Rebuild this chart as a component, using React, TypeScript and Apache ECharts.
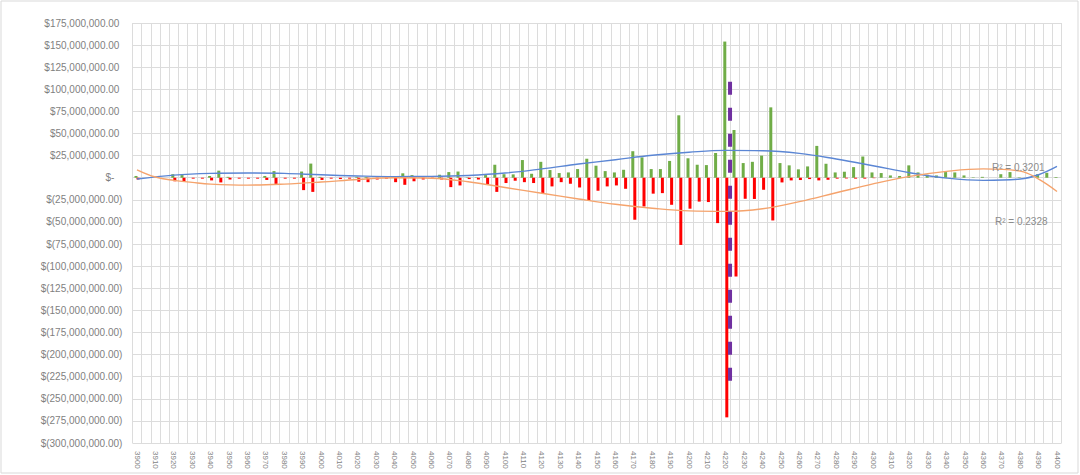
import React, { useEffect, useRef } from "react";
import * as echarts from "echarts";

// Strike categories 3900 .. 4400 step 5
const strikes: string[] = [];
for (let s = 3900; s <= 4400; s += 5) strikes.push(String(s));

// Call side (positive) values, in millions of dollars, one per strike
const callValues: number[] = [
  2, 0, 0, 0, 4, 3, 0, 0, 2, 8,
  1, 0, 0, 0, 2, 7.5, 0, 0, 7, 16,
  1, 0, 0, 0, 1, 1, 0, 0, 0, 5,
  3, 0, 0, 3.4, 6.4, 7, 0.5, 0.5, 3, 14.7,
  4, 3.8, 20, 4.5, 18, 8.7, 5.3, 6, 9.8, 21.5,
  13.6, 7.5, 6, 9, 30, 23, 9.8, 9.8, 19, 70.6,
  22, 14.7, 14.3, 28, 154, 54, 16.6, 18, 25, 79.6,
  16.6, 14, 9.5, 12.8, 36, 15.8, 6, 6.8, 12, 24,
  6, 5.3, 2.6, 2, 14, 6, 3.4, 2.6, 6.4, 6,
  2.6, 0.5, 1, 0, 4, 6.4, 0.5, 0, 4, 5.6,
  0.8,
];

// Put side (negative) values, in millions of dollars, one per strike
const putValues: number[] = [
  -2, 0, 0, 0, -4, -4.5, -1, -1, -3, -5.3,
  -2, -1, -1, -1, -2.5, -7, -1, -1, -14, -16,
  -2.5, -1, -1.5, -1, -4.5, -5, -2, -1, -5, -8,
  -4, -2, -1, -2, -10.6, -8.7, -1.5, -2, -8, -16,
  -6, -3.4, -5, -6, -18, -9.8, -5, -6.8, -11, -26,
  -14.7, -9.8, -8.7, -12.5, -47.5, -32.5, -18, -17.4, -30.6, -76,
  -35, -27, -27.5, -51.3, -271, -111.7, -23.8, -24, -13.6, -48.3,
  -5.3, -3, -2.6, -1.5, -3, -2.3, -1, -0.8, -1, -1,
  -0.5, 0, 0, 0, 0, 0, 0, 0, 0, 0,
  0, 0, 0, 0, 0, 0, 0, 0, 0, 0,
  0,
];

// Polynomial trend line of the call side (strike, millions)
const callTrend: [number, number][] = [
  [3900, -1.5], [3920, 3], [3940, 4.9], [3960, 5.3], [3980, 4.9], [4000, 3.3],
  [4020, 2], [4040, 1.3], [4060, 1.5], [4080, 2.6], [4100, 5.3], [4120, 10],
  [4140, 15.5], [4160, 20.4], [4180, 25.5], [4200, 28.9], [4220, 30.9], [4240, 30.6],
  [4260, 27.6], [4280, 21.2], [4300, 13.6], [4320, 5.6], [4340, -0.4], [4360, -3],
  [4380, -1.5], [4390, 3.4], [4400, 12.8],
];

// Polynomial trend line of the put side (strike, millions)
const putTrend: [number, number][] = [
  [3900, 9], [3910, 0.8], [3920, -3], [3930, -5.3], [3940, -7.2], [3960, -8.3],
  [3980, -7.2], [4000, -4.9], [4020, -2], [4040, 0], [4060, -0.5], [4080, -4.5],
  [4100, -11], [4120, -17.5], [4140, -24], [4160, -30], [4180, -34.5], [4200, -37.5],
  [4220, -38], [4240, -35], [4260, -27], [4280, -17], [4300, -7], [4320, 1.5],
  [4340, 7.2], [4360, 10], [4380, 7.5], [4390, -1.5], [4400, -15.5],
];

// Current price marker (strike, millions)
const spotMarker: [number, number][] = [
  [4222.3, 108.6],
  [4222.3, -233],
];

const trendLabels: string[] = ["R² = 0.3201", "R² = 0.2328"];

const Y_MIN = -300e6;
const Y_MAX = 175e6;
const Y_STEP = 25e6;
const M = 1e6;
const FONT = "Liberation Sans";

function fmtMoney(v: number): string {
  return Math.abs(v).toLocaleString("en-US", {
    minimumFractionDigits: 2,
    maximumFractionDigits: 2,
  });
}

export default function App() {
  const ref = useRef<HTMLDivElement>(null);

  useEffect(() => {
    if (!ref.current) return;
    const chart = echarts.init(ref.current, undefined, { renderer: "svg" });
    const labelColor = "#7f7f7f";
    const option: any = {
      animation: false,
      backgroundColor: "#ffffff",
      grid: { left: 132.4, right: 18.4, top: 23, bottom: 32, containLabel: false },
      xAxis: [
        {
          type: "category",
          data: strikes,
          boundaryGap: true,
          axisLine: { show: false },
          axisTick: { show: false },
          splitLine: { show: true, interval: 0, lineStyle: { color: "#dcdcdc", width: 1 } },
          axisLabel: {
            interval: 1,
            rotate: -90,
            fontSize: 8,
            color: labelColor,
            fontFamily: FONT,
            margin: 8,
          },
        },
        {
          type: "value",
          min: 3897.5,
          max: 4402.5,
          show: false,
        },
      ],
      yAxis: {
        type: "value",
        min: Y_MIN,
        max: Y_MAX,
        interval: Y_STEP,
        axisLine: { show: false },
        axisTick: { show: false },
        splitLine: { lineStyle: { color: "#dcdcdc", width: 1 } },
        axisLabel: {
          margin: 10,
          fontFamily: FONT,
          fontSize: 10,
          color: labelColor,
          formatter: (v: number) => {
            if (v === 0) return "{z|$-}";
            if (v < 0) return "{n|$(" + fmtMoney(v) + ")}";
            return "{p|$" + fmtMoney(v) + "}";
          },
          rich: {
            p: { fontFamily: FONT, fontSize: 10, color: labelColor, padding: [0, 3, 0, 0] },
            n: { fontFamily: FONT, fontSize: 10, color: labelColor },
            z: { fontFamily: FONT, fontSize: 10, color: labelColor, padding: [0, 8, 0, 0] },
          },
        },
      },
      series: [
        {
          name: "Calls",
          type: "bar",
          data: callValues.map((v) => v * M),
          barWidth: 3,
          barGap: "-33%",
          itemStyle: { color: "#70ad47" },
        },
        {
          name: "Puts",
          type: "bar",
          data: putValues.map((v) => v * M),
          barWidth: 3,
          barGap: "-33%",
          itemStyle: { color: "#ff0000" },
        },
        {
          name: "Calls trend",
          type: "line",
          xAxisIndex: 1,
          data: callTrend.map(([x, y]) => [x, y * M]),
          smooth: 0.4,
          symbol: "none",
          lineStyle: { color: "#5b86d4", width: 1.4 },
          z: 3,
        },
        {
          name: "Puts trend",
          type: "line",
          xAxisIndex: 1,
          data: putTrend.map(([x, y]) => [x, y * M]),
          smooth: 0.4,
          symbol: "none",
          lineStyle: { color: "#f5a36c", width: 1.4 },
          z: 3,
        },
        {
          name: "Spot",
          type: "line",
          xAxisIndex: 1,
          data: spotMarker.map(([x, y]) => [x, y * M]),
          symbol: "none",
          lineStyle: { color: "#7030a0", width: 4, type: [13, 13], cap: "butt" },
          z: 4,
        },
      ],
      graphic: [
        {
          type: "rect",
          shape: { x: 1, y: 1, width: 1077, height: 472 },
          style: { fill: "none", stroke: "#d9d9d9", lineWidth: 1 },
          silent: true,
        },
        {
          type: "text",
          x: 992,
          y: 167,
          style: {
            text: trendLabels[0],
            fontFamily: FONT,
            fontSize: 10,
            fill: "#8c8c8c",
            textVerticalAlign: "middle",
          },
          z: 10,
        },
        {
          type: "text",
          x: 995,
          y: 221,
          style: {
            text: trendLabels[1],
            fontFamily: FONT,
            fontSize: 10,
            fill: "#8c8c8c",
            textVerticalAlign: "middle",
          },
          z: 10,
        },
      ],
    };
    chart.setOption(option);
    return () => chart.dispose();
  }, []);

  return (
    <div
      ref={ref}
      style={{ position: "fixed", left: 0, top: 0, width: 1080, height: 475, background: "#fff" }}
    />
  );
}
